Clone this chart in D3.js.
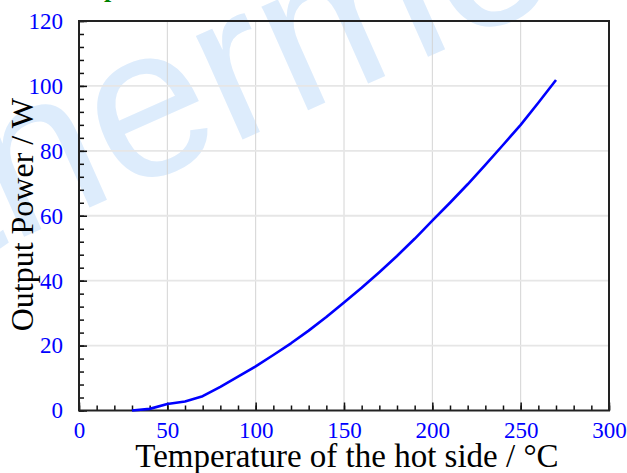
<!DOCTYPE html>
<html>
<head>
<meta charset="utf-8">
<script src="https://cdn.jsdelivr.net/npm/d3@7"></script>
<style>
  body { margin: 0; background: #fff; }
  svg { display: block; }
</style>
</head>
<body>
<div id="chart"></div>
<script>
// hot side temperature (°C) and output power (W)
var temps = [30, 40, 50, 60, 70, 80, 90, 100, 110, 120, 130, 140, 150, 160,
  170, 180, 190, 200, 210, 220, 230, 240, 250, 260, 270];
var power = [0, 0.5, 2.0, 2.8, 4.4, 7.3, 10.4, 13.6, 17.1, 20.7, 24.6, 28.8,
  33.3, 37.8, 42.6, 47.6, 52.9, 58.5, 64.0, 69.7, 75.7, 81.8, 88.0, 94.8, 101.8];
var xTicks = [0, 50, 100, 150, 200, 250, 300];
var yTicks = [0, 20, 40, 60, 80, 100, 120];

var width = 627, height = 473;
var margin = { top: 21, right: 18, bottom: 62.5, left: 79 };
var w = width - margin.left - margin.right;
var h = height - margin.top - margin.bottom;

var svg = d3.select("#chart").append("svg")
  .attr("width", width)
  .attr("height", height);

// watermark
svg.append("text")
  .attr("transform", "translate(-44,267) rotate(-24)")
  .attr("font-family", "Liberation Sans, Arial, sans-serif")
  .attr("font-size", 215)
  .attr("fill", "#ddecfc")
  .text("thermonamic");

// cut-off title letter at top
svg.append("text")
  .attr("x", 104)
  .attr("y", -3)
  .attr("font-family", "Liberation Serif, Times New Roman, serif")
  .attr("font-weight", "bold")
  .attr("font-size", 26)
  .attr("fill", "#008000")
  .text("p");

var g = svg.append("g")
  .attr("transform", "translate(" + margin.left + "," + margin.top + ")");

var x = d3.scaleLinear().domain([0, 300]).range([0, w]);
var y = d3.scaleLinear().domain([0, 120]).range([h, 0]);

// grid
g.selectAll(".vgrid")
  .data(xTicks.slice(1, -1))
  .enter().append("line")
  .attr("x1", d => x(d)).attr("x2", d => x(d))
  .attr("y1", 0).attr("y2", h)
  .attr("stroke", "#d4d4d4")
  .attr("stroke-width", 1);

g.selectAll(".hgrid")
  .data(yTicks.slice(1, -1))
  .enter().append("line")
  .attr("x1", 0).attr("x2", w)
  .attr("y1", d => y(d)).attr("y2", d => y(d))
  .attr("stroke", "#e6e6e6")
  .attr("stroke-width", 1.8);

// axes with inward ticks
var xMinor = d3.axisBottom(x).tickValues(d3.range(0, 301, 10)).tickSize(-5).tickFormat("");
var xMajor = d3.axisBottom(x).tickValues(xTicks).tickSize(-8).tickPadding(11);
var yMinor = d3.axisLeft(y).tickValues(d3.range(0, 121, 4)).tickSize(-5).tickFormat("");
var yMajor = d3.axisLeft(y).tickValues(yTicks).tickSize(-8).tickPadding(16);

g.append("g").attr("transform", "translate(0," + h + ")").call(xMinor);
g.append("g").attr("class", "xmaj").attr("transform", "translate(0," + h + ")").call(xMajor);
g.append("g").call(yMinor);
g.append("g").attr("class", "ymaj").call(yMajor);

g.selectAll(".domain").remove();
g.selectAll(".tick line").attr("stroke", "#111").attr("stroke-width", 1.5);
g.selectAll(".xmaj text, .ymaj text")
  .attr("font-family", "Liberation Serif, Times New Roman, serif")
  .attr("font-size", 23)
  .attr("fill", "#0000ff");

// frame
g.append("rect")
  .attr("width", w)
  .attr("height", h)
  .attr("fill", "none")
  .attr("stroke", "#222")
  .attr("stroke-width", 2);

// curve
var line = d3.line()
  .x((d, i) => x(temps[i]))
  .y(d => y(d));

g.append("path")
  .datum(power)
  .attr("d", line)
  .attr("fill", "none")
  .attr("stroke", "#0000ff")
  .attr("stroke-width", 2.6)
  .attr("stroke-linejoin", "round");

// axis titles
svg.append("text")
  .attr("x", margin.left + w / 2 + 3)
  .attr("y", 467)
  .attr("text-anchor", "middle")
  .attr("font-family", "Liberation Serif, Times New Roman, serif")
  .attr("font-size", 33)
  .attr("fill", "#000")
  .text("Temperature of the hot side / °C");

svg.append("text")
  .attr("transform", "translate(33," + (margin.top + h / 2 - 1) + ") rotate(-90)")
  .attr("text-anchor", "middle")
  .attr("font-family", "Liberation Serif, Times New Roman, serif")
  .attr("font-size", 32)
  .attr("fill", "#000")
  .text("Output Power / W");
</script>
</body>
</html>
